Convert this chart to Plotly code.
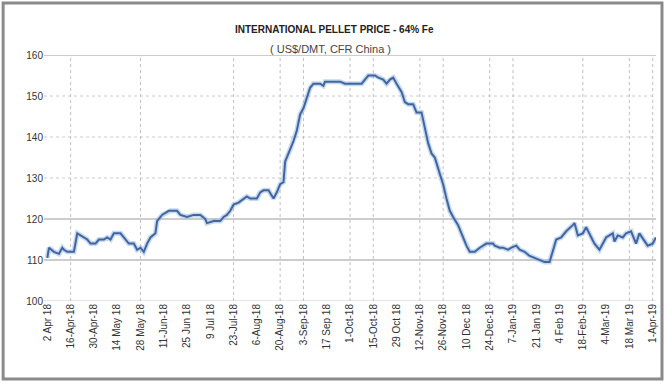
import plotly.graph_objects as go
import pandas as pd

# Daily-ish price series, US$/DMT CFR China (day offset from 2 Apr 2018, price)
day_offset = [0, 1, 4, 7, 9, 10, 12, 16, 18, 20, 22, 24, 26, 29, 31, 34, 36, 38, 40, 44,
              46, 49, 52, 54, 56, 58, 60, 62, 65, 66, 69, 73, 74, 78, 80, 84, 88, 92, 95, 96,
              100, 104, 106, 108, 110, 112, 115, 118, 120, 122, 126, 128, 130, 133, 136, 138,
              140, 142, 143, 146, 148, 150, 152, 154, 156, 158, 160, 164, 166, 167, 172, 176,
              179, 182, 186, 189, 191, 193, 197, 199, 202, 204, 206, 208, 210, 213, 215, 217,
              220, 222, 225, 227, 229, 231, 233, 236, 238, 240, 242, 244, 247, 250, 252, 254,
              257, 260, 264, 268, 269, 272, 274, 277, 279, 282, 284, 287, 290, 293, 296, 299,
              302, 304, 306, 309, 312, 316, 317, 319, 322, 324, 326, 329, 332, 334, 336, 338,
              340, 341, 343, 346, 348, 351, 354, 356, 359, 361, 364, 366]
price = [110.5, 113, 112, 111.5, 113, 112.5, 112, 112, 116.5, 116, 115.5, 115, 114, 114, 115,
         115, 115.5, 115, 116.5, 116.5, 115.5, 114, 114, 112.5, 113, 112, 114, 115.5, 116.5,
         119.5, 121, 122, 122, 122, 121, 120.5, 121, 121, 120, 119, 119.5, 119.5, 120.5, 121,
         122, 123.5, 124, 125, 125.5, 125, 125, 126.5, 127, 127, 125, 126.5, 128.5, 129, 134,
         137, 139, 141.5, 145.5, 147, 149.5, 152, 153, 153, 152.5, 153.5, 153.5, 153.5, 153,
         153, 153, 153, 154, 155, 155, 154.5, 154, 153, 154, 154.5, 153, 151, 148.5, 148, 148,
         146, 146, 142, 138.5, 136, 135, 131, 128.5, 125, 122, 120.5, 118.5, 115.5, 113.5, 112,
         112, 113, 114, 114, 113.5, 113, 113, 112.5, 113, 113.5, 112.5, 112, 111, 110.5, 110,
         109.5, 109.5, 112.5, 115, 115.5, 117, 118.5, 119, 116, 116.5, 118, 116.5, 114, 112.5,
         114, 115.5, 116, 116.5, 114.5, 116, 115.5, 116.5, 117, 114, 116.5, 114.5, 113.5, 114,
         115.5]

start = pd.Timestamp("2018-04-02")
dates = [start + pd.Timedelta(days=d) for d in day_offset]

# Fortnightly axis labels
tick_dates = pd.date_range("2018-04-02", "2019-04-01", freq="14D")
tick_labels = ["2 Apr 18", "16-Apr-18", "30-Apr-18", "14 May 18", "28 May 18", "11-Jun-18",
               "25 Jun 18", "9 Jul 18", "23-Jul-18", "6-Aug-18", "20-Aug-18", "3-Sep-18",
               "17 Sep 18", "1-Oct-18", "15-Oct-18", "29 Oct 18", "12-Nov-18", "26-Nov-18",
               "10 Dec 18", "24-Dec-18", "7-Jan-19", "21 Jan 19", "4 Feb 19", "18-Feb-19",
               "4-Mar-19", "18 Mar 19", "1-Apr-19"]

# Dates carrying a vertical dotted guide
guide_dates = ["2018-04-16", "2018-05-28", "2018-07-23", "2018-08-20", "2018-09-03",
               "2018-10-01", "2018-10-15", "2018-11-12", "2018-11-26", "2018-12-24",
               "2019-01-07", "2019-02-18", "2019-03-18", "2019-04-01"]

L, R, T, B = 44, 9, 55, 83
W, H = 667, 384
pw, ph = W - L - R, H - T - B


def px_x(p):
    return (p - L) / pw


def px_y(p):
    return (H - B - p) / ph


fig = go.Figure()

# soft halo under the line
fig.add_trace(go.Scatter(x=dates, y=price, mode="lines",
                         line=dict(color="rgba(150,185,230,0.55)", width=5),
                         hoverinfo="skip", showlegend=False))
fig.add_trace(go.Scatter(x=dates, y=price, mode="lines",
                         line=dict(color="#42659e", width=2),
                         showlegend=False))

shapes = []
# horizontal guides
for v in [130, 140, 150]:
    shapes.append(dict(type="line", xref="paper", yref="y", x0=0, x1=1, y0=v, y1=v,
                       line=dict(color="#cccccc", width=1, dash="dot"), layer="below"))
for v in [110, 120, 160]:
    shapes.append(dict(type="line", xref="paper", yref="y", x0=0, x1=1, y0=v, y1=v,
                       line=dict(color="#9a9a9a", width=1), layer="below"))
shapes.append(dict(type="line", xref="paper", yref="y", x0=0, x1=1, y0=100, y1=100,
                   line=dict(color="#d0d0d0", width=1), layer="below"))
# vertical guides
for d in guide_dates:
    shapes.append(dict(type="line", xref="x", yref="paper", x0=d, x1=d, y0=0, y1=1,
                       line=dict(color="#c0c0c0", width=1, dash="dot"), layer="below"))
# chart frame
shapes.append(dict(type="rect", xref="paper", yref="paper",
                   x0=px_x(3), x1=px_x(664), y0=px_y(3), y1=px_y(379),
                   line=dict(color="#8a8a8a", width=3), fillcolor="rgba(0,0,0,0)"))

fig.update_layout(
    width=W, height=H,
    margin=dict(l=L, r=R, t=T, b=B),
    paper_bgcolor="white", plot_bgcolor="white",
    font=dict(family="Liberation Sans, Arial, sans-serif", color="#333"),
    shapes=shapes,
    annotations=[
        dict(text="<b>INTERNATIONAL PELLET PRICE - 64% Fe</b>", xref="paper", yref="paper",
             x=px_x(335), y=px_y(22), showarrow=False,
             font=dict(size=10, color="#222")),
        dict(text="( US$/DMT, CFR China )", xref="paper", yref="paper",
             x=px_x(331), y=px_y(41), showarrow=False,
             font=dict(size=11, color="#444")),
    ],
)
fig.update_xaxes(range=["2018-03-31", "2019-04-03"], tickvals=tick_dates, ticktext=tick_labels,
                 tickangle=-90, tickfont=dict(size=10, color="#333"), showgrid=False,
                 zeroline=False, showline=False, ticks="")
fig.update_yaxes(range=[100, 160], tickvals=[100, 110, 120, 130, 140, 150, 160],
                 tickfont=dict(size=10, color="#333"), showgrid=False, zeroline=False,
                 showline=False, ticks="")

fig.write_html("out.html")
